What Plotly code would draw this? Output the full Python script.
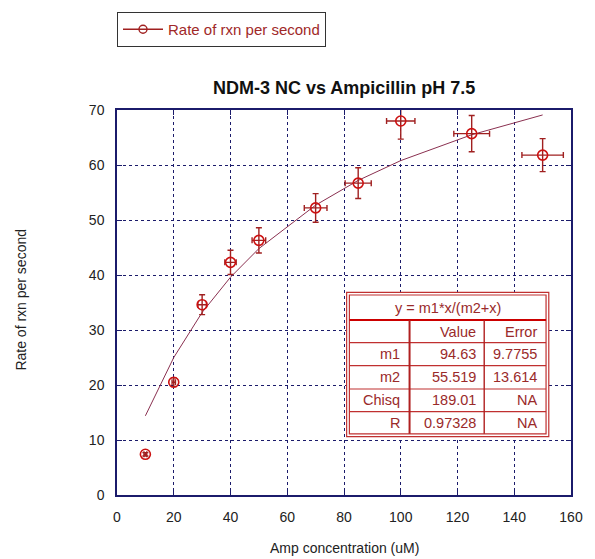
import plotly.graph_objects as go

# ---- data ----
amp_conc = [10, 20, 30, 40, 50, 70, 85, 100, 125, 150]
rate = [7.4, 20.5, 34.6, 42.3, 46.3, 52.2, 56.7, 68.0, 65.7, 61.8]
rate_err = [0.3, 0.8, 1.8, 2.2, 2.3, 2.6, 2.8, 3.3, 3.3, 3.0]
conc_err = [0.5, 0.6, 1.5, 2.0, 2.4, 4.0, 4.6, 5.0, 6.3, 7.3]
fit_y = [14.4, 25.0, 33.2, 39.6, 44.8, 52.7, 57.2, 60.8, 65.5, 69.1]

x_ticks = [0, 20, 40, 60, 80, 100, 120, 140, 160]
y_ticks = [0, 10, 20, 30, 40, 50, 60, 70]

fit_title = "y = m1*x/(m2+x)"
table_cols = ["", "Value", "Error"]
table_rows = [
    ["m1", "94.63", "9.7755"],
    ["m2", "55.519", "13.614"],
    ["Chisq", "189.01", "NA"],
    ["R", "0.97328", "NA"],
]

# ---- layout constants (pixels) ----
W, H = 595, 559
L, R, T, B = 117, 581, 110, 495


def px(x):
    return (x - L) / (R - L)


def py(y):
    return (B - y) / (B - T)


NAVY = "#1b1b6b"
RED = "#cc1111"
DARKRED = "#a02020"
FONT = "Liberation Sans, Arial, sans-serif"

fig = go.Figure()

fig.add_trace(go.Scatter(
    x=amp_conc, y=fit_y, mode="lines",
    line=dict(color="#8a3050", width=1),
    showlegend=False, hoverinfo="skip",
))

fig.add_trace(go.Scatter(
    x=amp_conc, y=rate, mode="markers",
    marker=dict(symbol="circle-open", size=10, color=RED, line=dict(width=1.6, color=RED)),
    error_y=dict(type="data", array=rate_err, color=DARKRED, thickness=1.4, width=3),
    error_x=dict(type="data", array=conc_err, color=DARKRED, thickness=1.4, width=3),
    showlegend=False,
))

# legend-only entry
fig.add_trace(go.Scatter(
    x=[None], y=[None], mode="lines+markers",
    name="Rate of rxn per second",
    line=dict(color=DARKRED, width=1.4),
    marker=dict(symbol="circle-open", size=8, color=DARKRED, line=dict(width=1.4, color=DARKRED)),
))

shapes = []
annotations = []

# ---- fit table ----
tl, tr, tt, tb = 351.7, 558.3, 292.3, 436.7
il, ir, it, ib = 354.5, 555.5, 295.0, 433.8
shapes.append(dict(type="rect", xref="paper", yref="paper",
                   x0=px(tl), x1=px(tr), y0=py(tb), y1=py(tt),
                   line=dict(color="#c03030", width=1.2), fillcolor="white", layer="above"))
shapes.append(dict(type="rect", xref="paper", yref="paper",
                   x0=px(il), x1=px(ir), y0=py(ib), y1=py(it),
                   line=dict(color="#c03030", width=1.2), fillcolor="white", layer="above"))
# header separator
shapes.append(dict(type="line", xref="paper", yref="paper",
                   x0=px(il), x1=px(ir), y0=py(320), y1=py(320),
                   line=dict(color="#cc0000", width=2.2), layer="above"))
row_lines = [342.7, 365.7, 389.0, 411.7]
for yy in row_lines:
    shapes.append(dict(type="line", xref="paper", yref="paper",
                       x0=px(il), x1=px(ir), y0=py(yy), y1=py(yy),
                       line=dict(color="#c03030", width=1.2), layer="above"))
for xx, wd in [(416, 2.0), (492.3, 1.4)]:
    shapes.append(dict(type="line", xref="paper", yref="paper",
                       x0=px(xx), x1=px(xx), y0=py(320), y1=py(ib),
                       line=dict(color="#b02020", width=wd), layer="above"))

TXT = "#9a2a2a"
annotations.append(dict(xref="paper", yref="paper", x=px(455), y=py(307.5),
                        text=fit_title, showarrow=False, xanchor="center", yanchor="middle",
                        font=dict(family=FONT, size=14.5, color=TXT)))
col_right = [408.5, 486.0, 548.5]
row_centers = [331.5, 354.3, 377.3, 400.3, 423.0]
for ci, label in enumerate(table_cols):
    if label:
        annotations.append(dict(xref="paper", yref="paper", x=px(col_right[ci]), y=py(row_centers[0]),
                                text=label, showarrow=False, xanchor="right", yanchor="middle",
                                font=dict(family=FONT, size=14.5, color=TXT)))
for ri, row in enumerate(table_rows):
    for ci, cell in enumerate(row):
        annotations.append(dict(xref="paper", yref="paper", x=px(col_right[ci]), y=py(row_centers[ri + 1]),
                                text=cell, showarrow=False, xanchor="right", yanchor="middle",
                                font=dict(family=FONT, size=14.5, color=TXT)))

# ---- titles ----
annotations.append(dict(xref="paper", yref="paper", x=px(349), y=py(88),
                        text="<b>NDM-3 NC vs Ampicillin pH 7.5</b>", showarrow=False,
                        xanchor="center", yanchor="middle",
                        font=dict(family=FONT, size=18, color="#111111")))
annotations.append(dict(xref="paper", yref="paper", x=px(349), y=py(548),
                        text="Amp concentration (uM)", showarrow=False,
                        xanchor="center", yanchor="middle",
                        font=dict(family=FONT, size=14, color="#222222")))
annotations.append(dict(xref="paper", yref="paper", x=px(18.5), y=py(300),
                        text="Rate of rxn per second", showarrow=False, textangle=-90,
                        xanchor="center", yanchor="middle",
                        font=dict(family=FONT, size=14, color="#222222")))

axis_common = dict(
    showline=True, linecolor=NAVY, linewidth=1.5, mirror="ticks",
    ticks="inside", ticklen=5, tickcolor=NAVY, tickwidth=1,
    showgrid=True, gridcolor=NAVY, gridwidth=1, griddash="dot",
    zeroline=False,
    tickfont=dict(family=FONT, size=14, color="#222222"),
)

fig.update_layout(
    width=W, height=H,
    margin=dict(l=L, r=W - R, t=T, b=H - B),
    paper_bgcolor="white", plot_bgcolor="white",
    xaxis=dict(range=[0, 160], tickvals=x_ticks, ticklabelstandoff=8, **axis_common),
    yaxis=dict(range=[0, 70], tickvals=y_ticks, ticklabelstandoff=8, **axis_common),
    showlegend=True,
    legend=dict(x=px(117), y=py(12), xanchor="left", yanchor="top",
                bgcolor="white", bordercolor="#333333", borderwidth=1,
                font=dict(family=FONT, size=15, color="#a02828"),
                itemwidth=40),
    shapes=shapes,
    annotations=annotations,
)

fig.write_html("out.html")
